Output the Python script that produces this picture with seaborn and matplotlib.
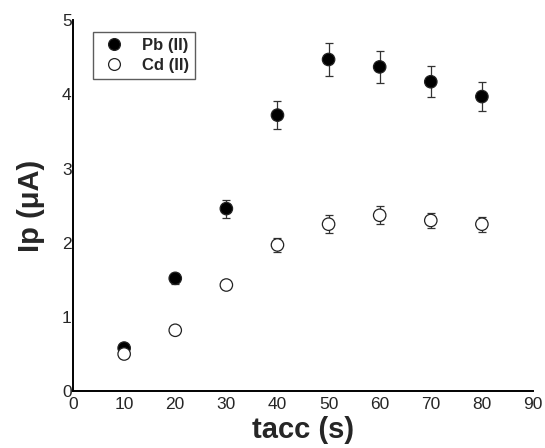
import numpy as np
import pandas as pd
import matplotlib
matplotlib.use('Agg')
import matplotlib.pyplot as plt
import seaborn as sns

# accumulation time (s)
tacc = [10, 20, 30, 40, 50, 60, 70, 80]

# peak currents (uA) and error bars
pb_ip = [0.58, 1.52, 2.46, 3.72, 4.47, 4.37, 4.17, 3.97]
pb_err = [0.05, 0.07, 0.12, 0.19, 0.22, 0.22, 0.21, 0.20]
cd_ip = [0.50, 0.82, 1.43, 1.97, 2.25, 2.37, 2.30, 2.25]
cd_err = [0.05, 0.04, 0.05, 0.10, 0.12, 0.12, 0.10, 0.10]

df = pd.DataFrame({
    'tacc': tacc * 2,
    'ip': pb_ip + cd_ip,
    'err': pb_err + cd_err,
    'ion': ['Pb (II)'] * len(tacc) + ['Cd (II)'] * len(tacc),
})

sns.set_style('ticks')
plt.rcParams['font.family'] = ['Liberation Sans', 'DejaVu Sans']

fig = plt.figure(figsize=(5.45, 4.48), dpi=100)
ax = fig.add_axes([0.134, 0.127, 0.844, 0.828])

# error bars first, markers on top
for ion in ['Pb (II)', 'Cd (II)']:
    sub = df[df['ion'] == ion]
    ax.errorbar(sub['tacc'], sub['ip'], yerr=sub['err'], fmt='none',
                ecolor='#333333', elinewidth=0.9, capsize=3, capthick=0.9, zorder=2)

sns.scatterplot(data=df, x='tacc', y='ip', hue='ion', style='ion',
                markers={'Pb (II)': 'o', 'Cd (II)': 'o'},
                palette={'Pb (II)': 'black', 'Cd (II)': 'white'},
                edgecolor='#222222', linewidth=0.9, s=80, ax=ax, zorder=3)

ax.set_xlim(0, 90)
ax.set_ylim(0, 5)
ax.set_xticks(range(0, 91, 10))
ax.set_yticks(range(0, 6))
ax.tick_params(axis='both', labelsize=12.5, length=0)
ax.tick_params(axis='y', pad=1)
ax.tick_params(axis='x', pad=4)
sns.despine(ax=ax)
for sp in ['left', 'bottom']:
    ax.spines[sp].set_linewidth(1.4)
    ax.spines[sp].set_color('black')

ax.set_xlabel('tacc (s)', fontsize=21, fontweight='bold', labelpad=3)
ax.set_ylabel('Ip (\u03bcA)', fontsize=21, fontweight='bold', labelpad=12)

handles, labels = ax.get_legend_handles_labels()
for h in handles:
    h.set_markersize(8.5)
leg = ax.legend(handles, labels, loc='upper left', bbox_to_anchor=(0.025, 0.99),
                frameon=True, fancybox=False, edgecolor='#333333',
                prop={'weight': 'bold', 'size': 12}, handletextpad=0.8,
                borderpad=0.35, labelspacing=0.3, handlelength=1.8)
leg.get_frame().set_linewidth(1.0)

fig.savefig('out.png', dpi=100)
